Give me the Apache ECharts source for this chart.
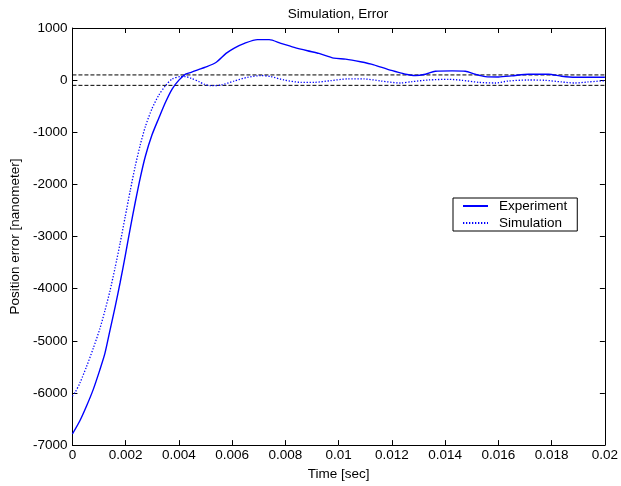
<!DOCTYPE html>
<html>
<head>
<meta charset="utf-8">
<script src="https://cdn.jsdelivr.net/npm/echarts@6/dist/echarts.min.js"></script>
<style>
  html, body { margin: 0; padding: 0; background: #fff; }
  #chart { width: 621px; height: 486px; }
</style>
</head>
<body>
<div id="chart"></div>
<script>
// Measured position error (nanometer) over time (sec)
const expTime = [0, 0.00028, 0.00053, 0.00078, 0.00103, 0.00122, 0.00141, 0.0016, 0.00179, 0.00198,
  0.00217, 0.00236, 0.00255, 0.00274, 0.00299, 0.00324, 0.0035, 0.00375, 0.004, 0.00425,
  0.00446, 0.00476, 0.00496, 0.00539, 0.00577, 0.00608, 0.00646, 0.00695, 0.00739, 0.00783,
  0.00833, 0.00883, 0.00926, 0.00982, 0.01026, 0.01082, 0.01132, 0.01182, 0.01213, 0.01251,
  0.01288, 0.01326, 0.01363, 0.01426, 0.01476, 0.01513, 0.01551, 0.016, 0.0165, 0.01713,
  0.01788, 0.01838, 0.01888, 0.0195, 0.02];
const experiment = [-6787, -6534, -6251, -5936, -5557, -5242, -4800, -4359, -3886, -3382,
  -2846, -2342, -1869, -1459, -1049, -734, -419, -166, 0, 117,
  150, 205, 242, 339, 513, 616, 706, 777, 777, 706,
  629, 564, 513, 422, 403, 352, 294, 210, 165, 113,
  87, 113, 171, 177, 171, 113, 68, 61, 81, 113,
  113, 74, 55, 55, 55];

// Simulated position error (nanometer) over time (sec)
const simTime = [0, 0.0001, 0.00028, 0.00053, 0.00078, 0.00103, 0.00122, 0.00141, 0.0016, 0.00179,
  0.00198, 0.00217, 0.00236, 0.00255, 0.00274, 0.00299, 0.00324, 0.0035, 0.00375, 0.00406,
  0.00425, 0.00446, 0.00476, 0.00496, 0.00521, 0.00558, 0.00608, 0.00658, 0.00708, 0.00745,
  0.00795, 0.00858, 0.00908, 0.0097, 0.01033, 0.01095, 0.01158, 0.01232, 0.01276, 0.01338,
  0.01413, 0.01463, 0.01526, 0.01588, 0.01638, 0.01713, 0.01775, 0.01838, 0.01888, 0.01936, 0.02];
const simulation = [-6060, -5990, -5809, -5494, -5147, -4769, -4422, -4044, -3603, -3130,
  -2625, -2121, -1648, -1238, -891, -545, -292, -103, 23, 67,
  67, 35, -30, -81, -106, -94, -16, 55, 87, 68,
  3, -42, -42, -10, 23, 23, -16, -55, -29, 3,
  16, -3, -42, -55, -16, 3, -3, -35, -55, -35, -10];

// Tolerance band limits
const bandTime = [0, 0.02];
const bandUpper = [100, 100];
const bandLower = [-100, -100];

const zip = (xs, ys) => xs.map((x, i) => [x, ys[i]]);

const FONT = 'Liberation Sans, Arial, sans-serif';
const FS = 13.5;
const xLabel = v => String(+(+v).toFixed(4));
const yLabel = v => String(v);

const chart = echarts.init(document.getElementById('chart'), null, { renderer: 'canvas' });

const axisLineStyle = { onZero: false, lineStyle: { color: '#000', width: 1 } };
const tickStyle = { show: true, inside: true, length: 5, lineStyle: { color: '#000', width: 1 } };

chart.setOption({
  animation: false,
  backgroundColor: '#fff',
  title: {
    text: 'Simulation, Error',
    left: 333, top: 2, textAlign: 'center',
    textStyle: { fontFamily: FONT, fontSize: FS, fontWeight: 'normal', color: '#000' }
  },
  grid: { left: 71, right: 16, top: 28, bottom: 35, containLabel: false },
  legend: {
    left: 453, top: 198,
    orient: 'vertical',
    itemGap: 3,
    itemWidth: 25, itemHeight: 12,
    padding: [1, 10, 1, 9],
    borderColor: '#000', borderWidth: 1,
    backgroundColor: '#fff',
    itemStyle: { opacity: 0 },
    textStyle: { fontFamily: FONT, fontSize: FS, color: '#000', padding: [0, 0, 0, 6] },
    data: ['Experiment', 'Simulation']
  },
  xAxis: [{
    type: 'value', min: 0, max: 0.02, interval: 0.002, position: 'bottom',
    name: 'Time [sec]', nameLocation: 'middle', nameGap: 18,
    nameTextStyle: { fontFamily: FONT, fontSize: FS, color: '#000' },
    axisLine: axisLineStyle, axisTick: tickStyle,
    axisLabel: { fontFamily: FONT, fontSize: FS, color: '#000', margin: 3, formatter: xLabel },
    splitLine: { show: false }
  }, {
    type: 'value', min: 0, max: 0.02, interval: 0.002, position: 'top',
    axisLine: axisLineStyle, axisTick: tickStyle,
    axisLabel: { show: false }, splitLine: { show: false }
  }],
  yAxis: [{
    type: 'value', min: -7000, max: 1000, interval: 1000, position: 'left',
    name: 'Position error [nanometer]', nameLocation: 'middle', nameGap: 47,
    nameTextStyle: { fontFamily: FONT, fontSize: FS, color: '#000' },
    axisLine: axisLineStyle, axisTick: tickStyle,
    axisLabel: { fontFamily: FONT, fontSize: FS, color: '#000', margin: 5, formatter: yLabel },
    splitLine: { show: false }
  }, {
    type: 'value', min: -7000, max: 1000, interval: 1000, position: 'right',
    axisLine: axisLineStyle, axisTick: tickStyle,
    axisLabel: { show: false }, splitLine: { show: false }
  }],
  series: [
    {
      name: 'band-upper', type: 'line', symbol: 'none', silent: true,
      data: zip(bandTime, bandUpper),
      lineStyle: { color: '#000', width: 1, type: [4, 2] }
    },
    {
      name: 'band-lower', type: 'line', symbol: 'none', silent: true,
      data: zip(bandTime, bandLower),
      lineStyle: { color: '#000', width: 1, type: [4, 2] }
    },
    {
      name: 'Experiment', type: 'line', symbol: 'none', smooth: 0.25,
      data: zip(expTime, experiment),
      color: '#0000ff',
      lineStyle: { color: '#0000ff', width: 1.4 }
    },
    {
      name: 'Simulation', type: 'line', symbol: 'none', smooth: 0.25,
      data: zip(simTime, simulation),
      color: '#0000ff',
      lineStyle: { color: '#0000ff', width: 1.3, type: [1.3, 1.7] }
    }
  ]
});
</script>
</body>
</html>
